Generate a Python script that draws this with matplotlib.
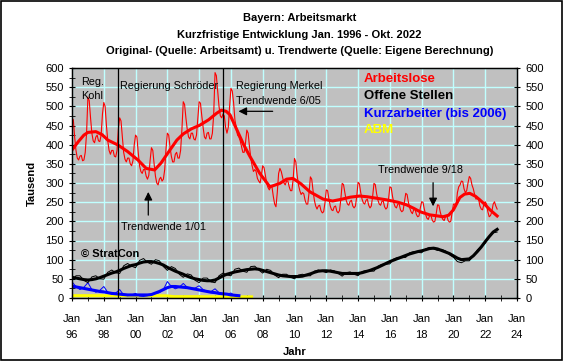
import numpy as np
import matplotlib.pyplot as plt
from matplotlib.patches import Rectangle

plt.rcParams['font.family'] = ['Liberation Sans', 'DejaVu Sans']

# Arbeitslose, monthly Jan 1996 - Oct 2022 (Tausend)
alo_raw = [
    469, 465, 420, 385, 365, 360, 370, 372, 358, 360, 380, 430,   # 1996
    524, 515, 470, 430, 410, 405, 420, 425, 410, 408, 425, 480,   # 1997
    510, 500, 450, 410, 385, 375, 385, 385, 370, 368, 385, 440,   # 1998
    470, 462, 420, 380, 362, 355, 365, 365, 350, 345, 358, 400,   # 1999
    425, 420, 380, 345, 330, 325, 335, 335, 318, 310, 320, 360,   # 2000
    392, 385, 350, 318, 300, 295, 310, 315, 305, 310, 335, 390,   # 2001
    430, 425, 395, 370, 355, 355, 375, 380, 365, 365, 385, 440,   # 2002
    512, 505, 470, 440, 420, 415, 430, 430, 415, 412, 425, 470,   # 2003
    512, 508, 475, 445, 420, 415, 430, 432, 415, 415, 430, 480,   # 2004
    588, 580, 540, 500, 475, 470, 480, 475, 445, 430, 445, 500,   # 2005
    547, 540, 510, 465, 445, 425, 420, 410, 395, 380, 380, 405,   # 2006
    438, 430, 395, 365, 345, 330, 335, 330, 312, 305, 300, 320,   # 2007
    345, 340, 320, 300, 288, 282, 290, 290, 265, 245, 238, 275,   # 2008
    325, 338, 330, 315, 300, 295, 305, 305, 290, 280, 280, 310,   # 2009
    364, 355, 320, 295, 280, 270, 275, 272, 255, 245, 245, 275,   # 2010
    316, 310, 280, 255, 240, 232, 240, 242, 228, 222, 225, 248,   # 2011
    282, 280, 258, 240, 230, 228, 238, 240, 226, 222, 228, 258,   # 2012
    299, 296, 275, 255, 245, 242, 252, 255, 240, 235, 240, 265,   # 2013
    302, 298, 275, 258, 248, 245, 255, 258, 242, 235, 240, 265,   # 2014
    299, 296, 272, 255, 245, 242, 252, 253, 238, 232, 236, 258,   # 2015
    290, 288, 265, 248, 238, 235, 245, 246, 230, 225, 228, 250,   # 2016
    273, 270, 250, 235, 225, 220, 230, 232, 218, 212, 214, 235,   # 2017
    251, 250, 232, 218, 208, 205, 215, 216, 203, 198, 200, 220,   # 2018
    243, 242, 225, 212, 205, 202, 212, 215, 202, 198, 200, 222,   # 2019
    245, 245, 240, 275, 290, 295, 305, 304, 285, 275, 280, 300,   # 2020
    317, 312, 295, 285, 270, 258, 260, 258, 240, 232, 230, 245,   # 2021
    251, 245, 225, 212, 215, 225, 245, 251, 240, 232,             # 2022
]
alo_trend_t = [1996.0, 1996.4, 1996.75, 1997.0, 1997.5, 1997.9, 1998.25, 1998.9, 1999.5,
               2000.15, 2000.67, 2001.2, 2001.6, 2002.16, 2002.6, 2003.0, 2003.5, 2004.05,
               2004.6, 2005.1, 2005.4, 2005.7, 2005.94, 2006.36, 2006.8, 2007.2, 2007.8,
               2008.45, 2009.08, 2009.5, 2009.9, 2010.4, 2010.97, 2011.8, 2012.4, 2013.0,
               2013.5, 2014.1, 2014.6, 2015.2, 2015.8, 2016.5, 2017.05, 2017.5, 2017.9,
               2018.5, 2019.35, 2019.7, 2020.0, 2020.4, 2020.7, 2021.03, 2021.4, 2021.66,
               2022.0, 2022.3, 2022.75]
alo_trend = [386, 408, 425, 432, 434, 426, 412, 399, 382,
             360, 338, 334, 352, 386, 412, 428, 441, 451,
             465, 482, 490, 487, 478, 440, 400, 369, 326,
             290, 299, 310, 312, 298, 277, 258, 253, 258,
             263, 266, 264, 260, 256, 250, 243, 234, 225,
             217, 212, 216, 230, 262, 271, 273, 265, 256,
             243, 230, 214]

# Offene Stellen, quarterly (Jan, Apr, Jul, Oct) 1996 - 2022
os_raw = [46, 58, 58, 46, 40, 55, 58, 50, 49, 67, 73, 66, 64, 84, 90, 83,
          79, 98, 103, 93, 88, 100, 97, 82, 72, 82, 77, 62, 54, 63, 60, 46,
          40, 52, 52, 42, 40, 58, 65, 60, 58, 75, 78, 70, 67, 82, 83, 73,
          65, 75, 72, 60, 53, 62, 62, 54, 50, 60, 62, 58, 58, 70, 73, 70,
          66, 73, 71, 64, 57, 66, 68, 62, 58, 69, 72, 70, 70, 83, 88, 88,
          89, 102, 106, 105, 106, 118, 121, 119, 118, 128, 132, 128,
          124, 127, 123, 113, 106, 95, 92, 97, 97, 110, 125, 135,
          143, 160, 170, 172]
os_trend = [54, 52, 50, 48, 47, 48, 50, 53, 57, 61, 65, 68, 72, 77, 81, 85,
            87, 91, 94, 95, 95, 93, 90, 86, 80, 75, 70, 66, 62, 57, 53, 50,
            48, 46, 45, 45, 47, 52, 58, 62, 65, 68, 70, 72, 74, 75, 76, 75,
            72, 69, 66, 63, 60, 58, 57, 56, 56, 56, 57, 60, 63, 67, 70, 71,
            71, 70, 68, 66, 64, 64, 64, 64, 64, 66, 69, 72, 76, 80, 85, 90,
            95, 99, 103, 107, 111, 115, 118, 121, 123, 126, 129, 130,
            128, 124, 120, 116, 110, 104, 100, 101, 102, 110, 121, 133,
            147, 160, 172, 179]

# Kurzarbeiter, quarterly 1996 - Jul 2006
ka_raw = [42, 30, 22, 28, 40, 22, 15, 20, 30, 15, 10, 13, 22, 8, 6, 8,
          12, 5, 4, 6, 10, 12, 14, 22, 43, 30, 24, 28, 38, 28, 25, 26,
          32, 22, 18, 17, 24, 14, 9, 10, 13, 6, 4]
ka_trend = [31, 29, 27, 25, 23, 21, 19, 17, 16, 14, 12, 11, 10, 9, 8, 8,
            8, 8, 8, 8, 9, 13, 17, 22, 27, 30, 30, 29, 28, 27, 25, 23,
            21, 19, 17, 15, 14, 12, 11, 10, 8, 7, 6]

# ABM, yearly 1996 - 2007
abm_t = [1996, 1997, 1998, 1999, 2000, 2001, 2002, 2002.4, 2003, 2004, 2005, 2006, 2007, 2007.3]
abm = [6, 6, 6, 6, 6, 6, 5.5, 3.5, 3.5, 3.5, 3, 3, 3, 3]

x_years = list(range(1996, 2025, 2))
x_labels = ['Jan\n%02d' % (y % 100) for y in x_years]

alo_t = 1996 + np.arange(len(alo_raw)) / 12
q_t = 1996 + np.arange(len(os_raw)) * 0.25
ka_t = 1996 + np.arange(len(ka_raw)) * 0.25

fig = plt.figure(figsize=(5.64, 3.61), dpi=100)
ax = fig.add_axes([72/564, 63/361, 445/564, 230/361])
ax.set_facecolor('#c0c0c0')

ax.plot(abm_t, abm, color='#ffff00', lw=2.2)
ax.plot(ka_t, ka_raw, color='#0000ff', lw=0.7)
ax.plot(ka_t, ka_trend, color='#0000ff', lw=2.2)
ax.plot(q_t, os_raw, color='black', lw=0.7)
ax.plot(q_t, os_trend, color='black', lw=2.2)
ax.plot(alo_t, alo_raw, color='#ff0000', lw=0.8)
ax.plot(alo_trend_t, alo_trend, color='#ff0000', lw=2.2)

ax.axvline(1998.9, color='black', lw=0.9)
ax.axvline(2005.5, color='black', lw=0.9)

ax.set_xlim(1996, 2024)
ax.set_ylim(0, 600)
ax.set_xticks(x_years)
ax.set_xticklabels(x_labels, fontsize=8, linespacing=1.75)
ax.set_xticks(range(1997, 2024, 2), minor=True)
ax.set_yticks(range(0, 601, 50))
ax.set_yticks(range(25, 600, 50), minor=True)
ax.tick_params(axis='y', labelsize=8, direction='inout', length=5)
ax.tick_params(axis='y', which='minor', direction='inout', length=4)
ax.tick_params(axis='x', labelsize=8, direction='inout', length=5, pad=9)
ax.tick_params(axis='x', which='minor', direction='inout', length=4)
ax.grid(True, color='#c0ffff', lw=1)
ax.set_axisbelow(True)
for s in ax.spines.values():
    s.set_color('black')
    s.set_linewidth(1)

ax2 = ax.twinx()
ax2.set_ylim(0, 600)
ax2.set_yticks(range(0, 601, 50))
ax2.tick_params(axis='y', labelsize=8, direction='inout', length=5)

ax.set_xlabel('Jahr', fontsize=8, fontweight='bold', labelpad=5)
ax.set_ylabel('Tausend', fontsize=8, fontweight='bold', labelpad=6)

# annotations
ax.text(1996.55, 577, 'Reg.\nKohl', fontsize=7.8, va='top', linespacing=1.5)
ax.text(2002.1, 553, 'Regierung Schröder', fontsize=7.8, ha='center', va='center')
ax.text(2006.35, 553, 'Regierung Merkel', fontsize=7.8, ha='left', va='center')
ax.text(2006.35, 514, 'Trendwende 6/05', fontsize=7.8, ha='left', va='center')
ax.annotate('', xy=(2006.3, 487), xytext=(2008.8, 487),
            arrowprops=dict(arrowstyle='-|>', color='black', lw=0.9, mutation_scale=12))
ax.text(2001.75, 184, 'Trendwende 1/01', fontsize=7.8, ha='center', va='center')
ax.annotate('', xy=(2000.8, 284), xytext=(2000.8, 209),
            arrowprops=dict(arrowstyle='-|>', color='black', lw=0.9, mutation_scale=12))
ax.text(2017.9, 334, 'Trendwende 9/18', fontsize=7.8, ha='center', va='center')
ax.annotate('', xy=(2018.72, 232), xytext=(2018.72, 308),
            arrowprops=dict(arrowstyle='-|>', color='black', lw=0.9, mutation_scale=12))
ax.text(1996.55, 115, '© StratCon', fontsize=8, fontweight='bold', va='center')

# legend as coloured text
ax.text(2014.35, 570, 'Arbeitslose', color='#ff0000', fontsize=9.5, fontweight='bold', va='center')
ax.text(2014.35, 526, 'Offene Stellen', color='black', fontsize=9.5, fontweight='bold', va='center')
ax.text(2014.35, 481, 'Kurzarbeiter (bis 2006)', color='#0000ff', fontsize=9.5, fontweight='bold', va='center')
ax.text(2014.35, 437, 'ABM', color='#ffff00', fontsize=9.5, fontweight='bold', va='center')

fig.text(0.531, 1 - 18/361, 'Bayern: Arbeitsmarkt', ha='center', va='center', fontsize=8, fontweight='bold')
fig.text(0.531, 1 - 34.5/361, 'Kurzfristige Entwicklung Jan. 1996 - Okt. 2022', ha='center', va='center',
         fontsize=8, fontweight='bold')
fig.text(0.531, 1 - 50.5/361, 'Original- (Quelle: Arbeitsamt) u. Trendwerte (Quelle: Eigene Berechnung)',
         ha='center', va='center', fontsize=8, fontweight='bold')

fig.add_artist(Rectangle((0.002, 0.003), 0.995, 0.994, transform=fig.transFigure,
                         fill=False, edgecolor='black', lw=1.2))

fig.savefig('out.png', dpi=100)
